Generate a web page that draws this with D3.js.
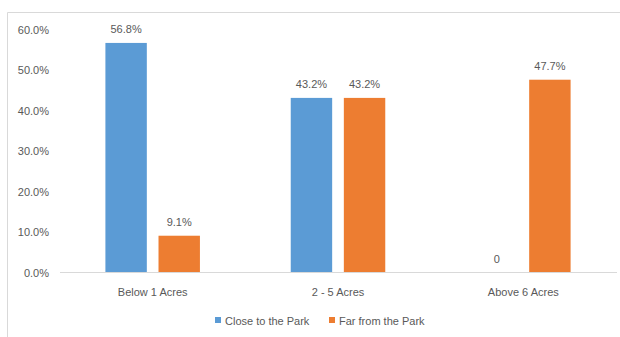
<!DOCTYPE html>
<meta charset="utf-8">
<title>Plot size</title>
<style>
  body { margin: 0; background: #fff; }
  text { font-family: "Liberation Sans", Arial, sans-serif; fill: #595959; }
</style>
<div id="viz"></div>
<script src="https://cdnjs.cloudflare.com/ajax/libs/d3/7.8.5/d3.min.js"></script>
<script>

var categories = ["Below 1 Acres", "2 - 5 Acres", "Above 6 Acres"];
var seriesNames = ["Close to the Park", "Far from the Park"];
var closeVals = [0.568, 0.432, 0];
var farVals = [0.091, 0.432, 0.477];
var yTicks = [0, 0.1, 0.2, 0.3, 0.4, 0.5, 0.6];
var colors = ["#5B9BD5", "#ED7D31"];

var width = 620;
var height = 337;

var svg = d3.select("#viz")
  .append("svg")
  .attr("width", width)
  .attr("height", height);

// chart border (right and bottom sides are cut off)
svg.append("path")
  .attr("d", "M7.5,340V12.5H625")
  .attr("fill", "none")
  .attr("stroke", "#d9d9d9");

var x = d3.scaleBand()
  .domain(categories)
  .range([60, 616])
  .paddingInner(0.49)
  .paddingOuter(0.245);

var sub = d3.scaleBand()
  .domain(seriesNames)
  .range([0, x.bandwidth()])
  .paddingInner(0.22);

var y = d3.scaleLinear()
  .domain([0, 0.6])
  .range([272.5, 30]);

var pct = d3.format(".1%");

// y tick labels, no gridlines
svg.selectAll(".ylab")
  .data(yTicks)
  .enter().append("text")
  .attr("x", 49)
  .attr("y", d => y(d) + 4)
  .attr("text-anchor", "end")
  .attr("font-size", 11)
  .text(d => pct(d));

var rows = categories.map((c, i) => ({
  cat: c,
  vals: [closeVals[i], farVals[i]]
}));

var groups = svg.selectAll(".grp")
  .data(rows)
  .enter().append("g")
  .attr("transform", d => "translate(" + x(d.cat) + ",0)");

var bars = groups.selectAll("g.bar")
  .data(d => d.vals.map((v, j) => ({ name: seriesNames[j], v: v, j: j })))
  .enter().append("g");

bars.append("rect")
  .attr("x", d => sub(d.name))
  .attr("width", sub.bandwidth())
  .attr("y", d => y(d.v))
  .attr("height", d => y(0) - y(d.v))
  .attr("fill", d => colors[d.j]);

bars.append("text")
  .attr("x", d => sub(d.name) + sub.bandwidth() / 2)
  .attr("y", d => y(d.v) - 10)
  .attr("text-anchor", "middle")
  .attr("font-size", 11)
  .text(d => d.v === 0 ? "0" : pct(d.v));

// x axis baseline
svg.append("line")
  .attr("x1", 60).attr("x2", 617)
  .attr("y1", y(0)).attr("y2", y(0))
  .attr("stroke", "#d9d9d9");

svg.selectAll(".xlab")
  .data(categories)
  .enter().append("text")
  .attr("x", d => x(d) + x.bandwidth() / 2)
  .attr("y", 296)
  .attr("text-anchor", "middle")
  .attr("font-size", 11)
  .text(d => d);

// legend
var legX = [215, 329];
var leg = svg.selectAll(".leg")
  .data(seriesNames)
  .enter().append("g")
  .attr("transform", (d, i) => "translate(" + legX[i] + ",0)");

leg.append("rect")
  .attr("y", 317)
  .attr("width", 6)
  .attr("height", 6)
  .attr("fill", (d, i) => colors[i]);

leg.append("text")
  .attr("x", 10)
  .attr("y", 325)
  .attr("font-size", 11)
  .text(d => d);

</script>
